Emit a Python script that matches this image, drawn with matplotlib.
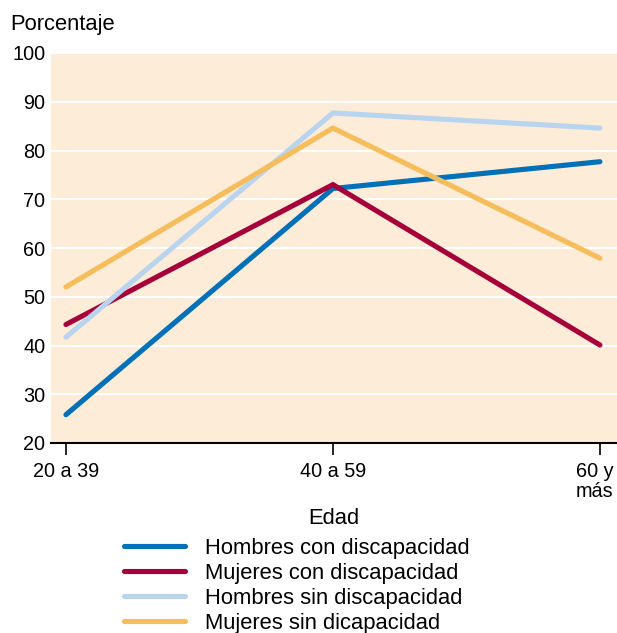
import matplotlib
matplotlib.use("Agg")
import matplotlib.pyplot as plt
from matplotlib.transforms import ScaledTranslation

# --- Data ---
edad = ["20 a 39", "40 a 59", "60 y\nmás"]
hombres_con = [25.8, 72.2, 77.7]
mujeres_con = [44.3, 73.0, 40.1]
hombres_sin = [41.7, 87.7, 84.6]
mujeres_sin = [52.0, 84.6, 57.9]

series = [
    ("Hombres con discapacidad", hombres_con, "#0070b8"),
    ("Mujeres con discapacidad", mujeres_con, "#a5003a"),
    ("Hombres sin discapacidad", hombres_sin, "#b9d4ef"),
    ("Mujeres sin dicapacidad", mujeres_sin, "#f6bd5c"),
]

plt.rcParams['font.family'] = ['Liberation Sans', 'DejaVu Sans']
TICK_FS = 14.3
TEXT_FS = 15.8

fig = plt.figure(figsize=(6.17, 6.33), dpi=100)
ax = fig.add_axes([51 / 617, 190 / 633, 566 / 617, 390 / 633])
ax.set_facecolor("#fdecd8")

x = list(range(len(edad)))
for name, vals, color in series:
    ax.plot(x, vals, color=color, linewidth=3.7, solid_capstyle='round',
            solid_joinstyle='miter', label=name, zorder=3)

ax.set_ylim(20, 100)
ax.set_yticks(range(20, 101, 10))
ax.set_xlim(-0.056, 2.064)
ax.set_xticks(x)
ax.set_xticklabels(edad, fontsize=TICK_FS, multialignment='center', linespacing=1.1)
ax.tick_params(axis='y', length=0, labelsize=TICK_FS, pad=4)
ax.tick_params(axis='x', length=8.5, width=1.2, direction='out', pad=5)
# last label sits against the figure edge: nudge it left a little
last = ax.get_xticklabels()[-1]
last.set_transform(last.get_transform() + ScaledTranslation(-0.05, 0, fig.dpi_scale_trans))
ax.grid(axis='y', color='white', linewidth=1.5, zorder=1)
ax.set_axisbelow(True)
for s in ['top', 'right', 'left']:
    ax.spines[s].set_visible(False)
ax.spines['bottom'].set_linewidth(1.5)

ax.set_xlabel("Edad", fontsize=TEXT_FS, labelpad=5)
fig.text(10 / 617, 1 - 30 / 633, "Porcentaje", fontsize=TEXT_FS)

fig.legend(loc='upper left', bbox_to_anchor=(124 / 617, 1 - 538 / 633),
           frameon=False, fontsize=TEXT_FS, handlelength=2.8, handletextpad=0.9,
           labelspacing=0.18, borderpad=0, borderaxespad=0)

plt.savefig("out.png", dpi=100)
